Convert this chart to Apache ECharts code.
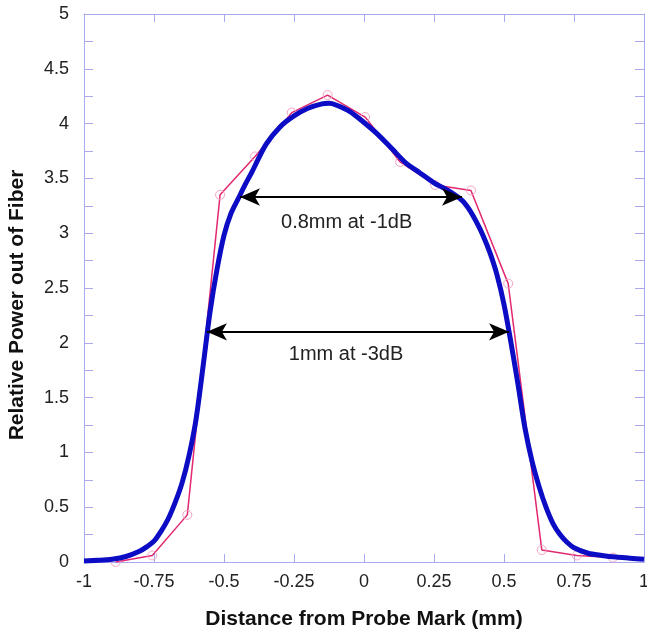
<!DOCTYPE html>
<html>
<head>
<meta charset="utf-8">
<script src="https://cdn.jsdelivr.net/npm/echarts@6/dist/echarts.min.js"></script>
<style>
html,body{margin:0;padding:0;background:#fff;}
#chart{width:647px;height:633px;}
</style>
</head>
<body>
<div id="chart"></div>
<script>
// Measured data (raw points, pink)
var rawX = [-0.887, -0.756, -0.631, -0.514, -0.389, -0.258, -0.130, 0.004, 0.129, 0.254, 0.382, 0.515, 0.635, 0.760, 0.889];
var rawY = [0.00, 0.06, 0.43, 3.35, 3.70, 4.10, 4.26, 4.06, 3.65, 3.44, 3.39, 2.54, 0.11, 0.06, 0.04];

// Fitted curve (blue)
var fitX = [-1, -0.95, -0.9, -0.85, -0.8, -0.775, -0.75, -0.725, -0.7, -0.675, -0.65, -0.625, -0.6, -0.575, -0.55, -0.525, -0.5, -0.475, -0.45, -0.425, -0.4, -0.35, -0.3, -0.25, -0.2, -0.15, -0.125, -0.1, -0.05, 0, 0.05, 0.1, 0.15, 0.2, 0.25, 0.3, 0.35, 0.375, 0.4, 0.425, 0.45, 0.475, 0.5, 0.525, 0.55, 0.575, 0.6, 0.625, 0.65, 0.675, 0.7, 0.725, 0.75, 0.8, 0.85, 0.9, 0.95, 1.0];
var fitY = [0.01, 0.015, 0.025, 0.05, 0.10, 0.14, 0.19, 0.28, 0.39, 0.54, 0.72, 0.97, 1.30, 1.78, 2.28, 2.67, 2.98, 3.18, 3.31, 3.44, 3.56, 3.81, 3.97, 4.07, 4.14, 4.18, 4.185, 4.17, 4.11, 4.01, 3.90, 3.77, 3.64, 3.55, 3.46, 3.39, 3.30, 3.22, 3.11, 2.98, 2.82, 2.62, 2.35, 2.00, 1.62, 1.22, 0.92, 0.69, 0.50, 0.35, 0.25, 0.18, 0.13, 0.08, 0.06, 0.045, 0.035, 0.025];

// Width annotations
var widthLabels = ['0.8mm at -1dB', '1mm at -3dB'];
var widthLevels = [3.33, 2.10];
var widthStart = [-0.443, -0.561];
var widthEnd = [0.35, 0.518];
var labelX = [-0.062, -0.064];
var labelY = [3.10, 1.89];

var xTicks = [-1, -0.75, -0.5, -0.25, 0, 0.25, 0.5, 0.75, 1];

var axisColor = '#a9a9ee';
var font = 'Liberation Sans, Arial, Helvetica, sans-serif';

var chart = echarts.init(document.getElementById('chart'));

function zip(a, b) { return a.map(function (v, i) { return [v, b[i]]; }); }

var markLines = widthLevels.map(function (lv, i) {
  return [{ coord: [widthStart[i], lv] }, { coord: [widthEnd[i], lv] }];
});
var markPoints = widthLabels.map(function (t, i) {
  return { coord: [labelX[i], labelY[i]], value: t };
});

var option = {
  animation: false,
  backgroundColor: '#fff',
  grid: { left: 84, right: 3, top: 14, bottom: 71, containLabel: false, outerBoundsMode: 'none' },
  xAxis: [{
    type: 'value', min: -1, max: 1, interval: 0.25, position: 'bottom',
    name: 'Distance from Probe Mark (mm)', nameLocation: 'middle', nameGap: 47,
    nameTextStyle: { fontFamily: font, fontWeight: 'bold', fontSize: 21, color: '#111' },
    axisLine: { show: true, onZero: false, lineStyle: { color: axisColor, width: 1 } },
    axisTick: { show: true, inside: true, length: 8, lineStyle: { color: axisColor } },
    axisLabel: { show: true, margin: 11, fontFamily: font, fontSize: 18, color: '#222', hideOverlap: false,
      formatter: function (v) { return xTicks.indexOf(v) >= 0 ? String(v) : ''; } },
    splitLine: { show: false }
  }, {
    type: 'value', min: -1, max: 1, interval: 0.25, position: 'top',
    axisLine: { show: true, onZero: false, lineStyle: { color: axisColor, width: 1 } },
    axisTick: { show: true, inside: true, length: 8, lineStyle: { color: axisColor } },
    axisLabel: { show: false }, splitLine: { show: false }
  }],
  yAxis: [{
    type: 'value', min: 0, max: 5, interval: 0.5, position: 'left',
    name: 'Relative Power out of Fiber', nameLocation: 'middle', nameGap: 56,
    nameTextStyle: { fontFamily: font, fontWeight: 'bold', fontSize: 21, color: '#111', padding: [0, 34, 0, 0] },
    axisLine: { show: true, onZero: false, lineStyle: { color: axisColor, width: 1 } },
    axisTick: { show: true, inside: true, length: 9, lineStyle: { color: axisColor } },
    minorTick: { show: true, splitNumber: 2, length: 9, lineStyle: { color: axisColor } },
    axisLabel: { show: true, margin: 15, fontFamily: font, fontSize: 18, color: '#222' },
    splitLine: { show: false }, minorSplitLine: { show: false }
  }, {
    type: 'value', min: 0, max: 5, interval: 0.5, position: 'right',
    axisLine: { show: true, onZero: false, lineStyle: { color: axisColor, width: 1 } },
    axisTick: { show: true, inside: true, length: 9, lineStyle: { color: axisColor } },
    minorTick: { show: true, splitNumber: 2, length: 9, lineStyle: { color: axisColor } },
    axisLabel: { show: false }, splitLine: { show: false }
  }],
  series: [{
    name: 'Measured', type: 'line', data: zip(rawX, rawY),
    symbol: 'circle', symbolSize: 9, showSymbol: true,
    lineStyle: { color: '#e2286f', width: 1.5 },
    itemStyle: { color: 'rgba(255,255,255,0)', borderColor: '#f3a3c6', borderWidth: 1 },
    z: 2
  }, {
    name: 'Fit', type: 'line', data: zip(fitX, fitY), smooth: 0.3,
    symbol: 'none', lineStyle: { color: '#0c0cc4', width: 5 },
    z: 3
  }, {
    name: 'Width', type: 'line', data: [], z: 4,
    markLine: {
      silent: true, symbol: ['arrow', 'arrow'], symbolSize: [13, 20],
      lineStyle: { color: '#000', width: 2, type: 'solid' },
      label: { show: false },
      data: markLines
    },
    markPoint: {
      silent: true, symbol: 'circle', symbolSize: 0,
      label: { show: true, position: 'inside', fontFamily: font, fontSize: 20, color: '#222',
        formatter: function (p) { return p.value; } },
      data: markPoints
    }
  }]
};
chart.setOption(option);
</script>
</body>
</html>
